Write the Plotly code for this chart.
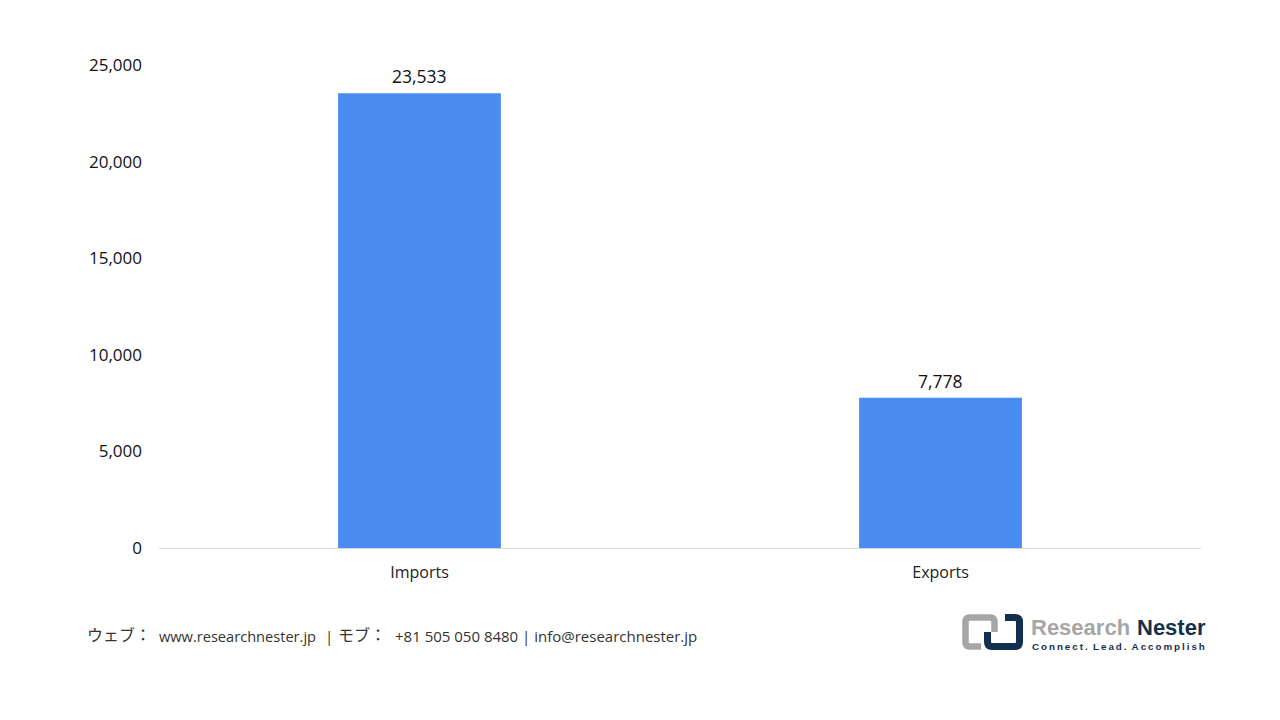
import plotly.graph_objects as go

CATEGORIES = ["Imports", "Exports"]
VALUES = [23533, 7778]
Y_TICKS = [0, 5000, 10000, 15000, 20000, 25000]

# the page body has an 8px margin, so the figure starts at (8, 8)
OFFSET = 8
WIDTH = 1272
HEIGHT = 712
LEFT, RIGHT = 159, 1201
TOP, BOTTOM = 65, 548
FONT = "Open Sans"
JP_FONT = "Noto Sans CJK JP"
LOGO_FONT = "Liberation Sans"
GREY = "#a6a6a6"
NAVY = "#14304f"


def px(x):
    # paper coordinates run over the plot area, not the page
    return (x - LEFT) / (RIGHT - LEFT)


def py(y):
    return (BOTTOM - y) / (BOTTOM - TOP)


def note(text, x, y, size=15, color="#333333", family=FONT):
    """Text placed by page pixels, so the footer is free of the plot area."""
    return dict(
        text=text,
        x=px(x),
        y=py(y),
        xref="paper",
        yref="paper",
        xanchor="left",
        yanchor="middle",
        showarrow=False,
        font=dict(family=family, size=size, color=color),
    )


def logo_path(points, color, width):
    return dict(
        type="path",
        path=points,
        xref="paper",
        yref="paper",
        line=dict(color=color, width=width),
        fillcolor="rgba(0,0,0,0)",
    )


def page_path(cmds):
    # each entry is (command, x, y) in page pixels
    return " ".join(f"{c} {px(x):.5f} {py(y):.5f}" for c, x, y in cmds)


fig = go.Figure(
    go.Bar(
        x=CATEGORIES,
        y=VALUES,
        marker=dict(color="#4a8cf0", line=dict(width=0)),
    )
)

grey_mark = page_path(
    [
        ("M", 981, 646.5),
        ("L", 970, 646.5),
        ("Q", 965.5, 646.5),
        ("", 965.5, 642),
        ("L", 965.5, 622),
        ("Q", 965.5, 617.5),
        ("", 970, 617.5),
        ("L", 990, 617.5),
        ("Q", 994.5, 617.5),
        ("", 994.5, 622),
        ("L", 994.5, 632),
    ]
)
navy_mark = page_path(
    [
        ("M", 1005, 617.5),
        ("L", 1015, 617.5),
        ("Q", 1019.5, 617.5),
        ("", 1019.5, 622),
        ("L", 1019.5, 642),
        ("Q", 1019.5, 646.5),
        ("", 1015, 646.5),
        ("L", 992, 646.5),
        ("Q", 987.5, 646.5),
        ("", 987.5, 642),
        ("L", 987.5, 632),
    ]
)

value_labels = [
    dict(
        x=c,
        y=v,
        text=f"{v:,}",
        showarrow=False,
        yanchor="bottom",
        yshift=3,
        font=dict(family=FONT, size=17.5, color="#111111"),
    )
    for c, v in zip(CATEGORIES, VALUES)
]

fig.update_layout(
    width=WIDTH,
    height=HEIGHT,
    margin=dict(
        l=LEFT - OFFSET,
        r=WIDTH + OFFSET - RIGHT,
        t=TOP - OFFSET,
        b=HEIGHT + OFFSET - BOTTOM,
        autoexpand=False,
    ),
    paper_bgcolor="white",
    plot_bgcolor="white",
    showlegend=False,
    bargap=0.6875,
    font=dict(family=FONT, size=17, color="#111111"),
    xaxis=dict(
        showgrid=False,
        showline=True,
        linecolor="#d9d9d9",
        linewidth=1,
        ticks="",
        tickfont=dict(size=16, color="#222222"),
        ticklabelstandoff=10,
    ),
    yaxis=dict(
        range=[0, 25000],
        tickvals=Y_TICKS,
        tickformat=",",
        showgrid=False,
        zeroline=False,
        showline=False,
        ticks="",
        ticklabelstandoff=16,
    ),
    shapes=[logo_path(grey_mark, GREY, 6.5), logo_path(navy_mark, NAVY, 7)],
    annotations=value_labels
    + [
        note("ウェブ：", 85, 634, size=16, family=JP_FONT),
        note("www.researchnester.jp", 157, 635.5, size=14.6),
        note("|", 323, 636),
        note("モブ：", 336, 634, size=16, family=JP_FONT),
        note("+81 505 050 8480 | info@researchnester.jp", 393, 635.5),
        note("<b>Research</b>", 1029, 627, size=22, color=GREY, family=LOGO_FONT),
        note("<b>Nester</b>", 1135, 627, size=22, color=NAVY, family=LOGO_FONT),
        note(
            "<b>C\u2009o\u2009n\u2009n\u2009e\u2009c\u2009t\u2009.  L\u2009e\u2009a\u2009d\u2009.  "
            "A\u2009c\u2009c\u2009o\u2009m\u2009p\u2009l\u2009i\u2009s\u2009h</b>",
            1030,
            646,
            size=9.8,
            color=NAVY,
            family=LOGO_FONT,
        ),
    ],
)

fig.write_html("out.html")
